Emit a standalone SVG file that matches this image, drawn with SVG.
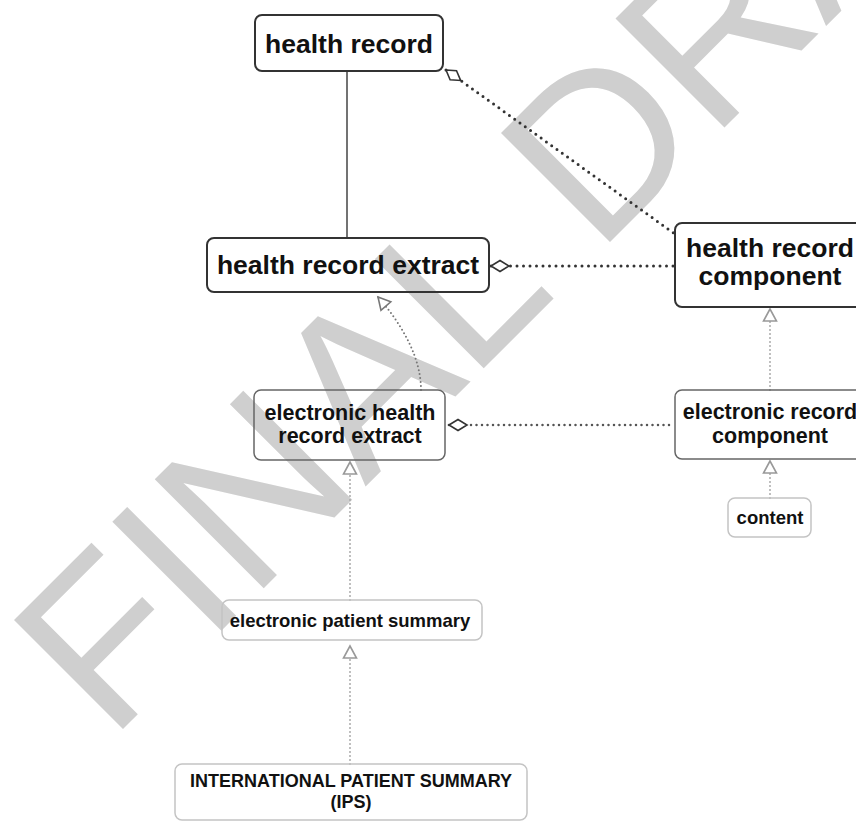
<svg xmlns="http://www.w3.org/2000/svg" width="856" height="823" viewBox="0 0 856 823">
<style>
.wm{font-family:"Liberation Sans",Arial,sans-serif;font-size:224px;fill:#cfcfcf}
.box{fill:none;stroke-linejoin:round}
.b1{stroke:#333;stroke-width:2}
.b2{stroke:#666;stroke-width:1.5}
.b3{stroke:#c4c4c4;stroke-width:1.5}
text.t{font-family:"Liberation Sans",Arial,sans-serif;font-weight:bold;fill:#111;text-anchor:middle}
.big{font-size:26.5px}
.mid{font-size:21.5px}
.sm{font-size:18.5px}
.solid{fill:none;stroke:#444;stroke-width:1.5}
.dotD{fill:none;stroke:#333;stroke-width:3;stroke-linecap:round;stroke-dasharray:0 6.5}
.dotM{fill:none;stroke:#555;stroke-width:2.5;stroke-linecap:round;stroke-dasharray:0 5.5}
.dotL{fill:none;stroke:#aaa;stroke-width:2;stroke-linecap:round;stroke-dasharray:0 4}
.dotC{fill:none;stroke:#777;stroke-width:2;stroke-linecap:round;stroke-dasharray:0 4}
</style>
<defs>
<marker id="dia" markerUnits="userSpaceOnUse" viewBox="-2 -8 22 16" markerWidth="22" markerHeight="16" refX="0" refY="0" orient="auto" overflow="visible">
<path d="M0,0 L9,-5.5 L18,0 L9,5.5 Z" fill="#fff" stroke="#333" stroke-width="1.6"/>
</marker>
<marker id="triL" markerUnits="userSpaceOnUse" viewBox="-16 -9 18 18" markerWidth="18" markerHeight="18" refX="0" refY="0" orient="auto" overflow="visible">
<path d="M0,0 L-12,-6.5 L-12,6.5 Z" fill="#fff" stroke="#999" stroke-width="1.6"/>
</marker>
<marker id="triC" markerUnits="userSpaceOnUse" viewBox="-16 -9 18 18" markerWidth="18" markerHeight="18" refX="0" refY="0" orient="auto" overflow="visible">
<path d="M0,0 L-12,-6.5 L-12,6.5 Z" fill="#fff" stroke="#777" stroke-width="1.6"/>
</marker>
</defs>

<text class="wm" x="110" y="742" transform="rotate(-45 110 742)">FINAL DRAFT</text>

<g id="connectors">
<path class="solid" d="M347,71 L347,238"/>
<path class="dotD" d="M446,70 L675,234" marker-start="url(#dia)"/>
<path class="dotD" d="M491,266 L674,266" marker-start="url(#dia)"/>
<path class="dotM" d="M449,425 L674,425" marker-start="url(#dia)"/>
<path class="dotC" d="M421,390 C421,360 405,328 378,297" marker-end="url(#triC)"/>
<path class="dotL" d="M770,390 L770,309" marker-end="url(#triL)"/>
<path class="dotL" d="M770,498 L770,461" marker-end="url(#triL)"/>
<path class="dotL" d="M350,600 L350,462" marker-end="url(#triL)"/>
<path class="dotL" d="M350,764 L350,646" marker-end="url(#triL)"/>
</g>

<g id="health-record">
<rect class="box b1" x="255" y="15" width="188" height="56" rx="7"/>
<text class="t big" x="349" y="53">health record</text>
</g>

<g id="health-record-extract">
<rect class="box b1" x="207" y="238" width="282" height="54" rx="7"/>
<text class="t big" x="348" y="274">health record extract</text>
</g>

<g id="health-record-component">
<rect class="box b1" x="675" y="223" width="190" height="84" rx="7"/>
<text class="t big" x="770" y="257">health record</text>
<text class="t big" x="770" y="285">component</text>
</g>

<g id="electronic-health-record-extract">
<rect class="box b2" x="254" y="390" width="191" height="70" rx="7"/>
<text class="t mid" x="350" y="420">electronic health</text>
<text class="t mid" x="350" y="443">record extract</text>
</g>

<g id="electronic-record-component">
<rect class="box b2" x="675" y="390" width="190" height="69" rx="7"/>
<text class="t mid" x="770" y="419">electronic record</text>
<text class="t mid" x="770" y="443">component</text>
</g>

<g id="content">
<rect class="box b3" x="728" y="498" width="83" height="39" rx="7"/>
<text class="t sm" x="770" y="524">content</text>
</g>

<g id="electronic-patient-summary">
<rect class="box b3" x="222" y="600" width="260" height="40" rx="7"/>
<text class="t sm" x="350" y="627">electronic patient summary</text>
</g>

<g id="ips">
<rect class="box b3" x="175" y="764" width="352" height="56" rx="7"/>
<text class="t" style="font-size:18px" x="351" y="787">INTERNATIONAL PATIENT SUMMARY</text>
<text class="t" style="font-size:18px" x="351" y="808">(IPS)</text>
</g>
</svg>
